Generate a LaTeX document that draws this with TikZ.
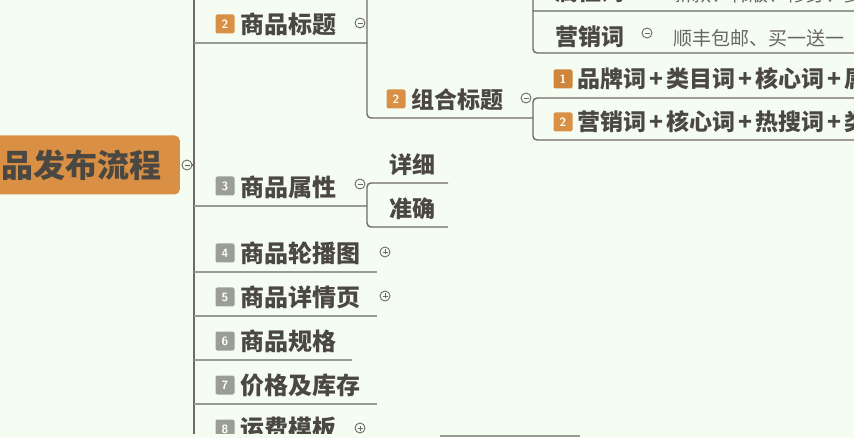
\documentclass[tikz,border=0pt]{standalone}
\usepackage{fontspec}
\newfontfamily\cjk{Noto Sans CJK SC}
\definecolor{bg}{HTML}{F5FDF3}
\definecolor{rootfill}{HTML}{D98F44}
\definecolor{selfill}{HTML}{CF863A}
\definecolor{ink}{HTML}{4B4742}
\definecolor{softink}{HTML}{6A6660}
\definecolor{linec}{HTML}{6E6A64}
\definecolor{ulc}{HTML}{979D92}
\definecolor{badgegray}{HTML}{9A9E95}
\newcommand\pl{\makebox[20pt]{+}}
\tikzset{
  root/.style={fill=rootfill, rounded corners=5pt, text=ink, inner xsep=18pt, inner ysep=0pt,
    minimum height=59pt, font=\cjk\bfseries\fontsize{32}{32}\selectfont},
  topic/.style={anchor=west, text=ink, inner sep=0pt, font=\cjk\bfseries\fontsize{24}{24}\selectfont},
  subtopic/.style={topic, font=\cjk\bfseries\fontsize{23}{23}\selectfont},
  note/.style={anchor=west, text=softink, inner sep=0pt, font=\cjk\fontsize{19}{19}\selectfont},
  badge/.style={fill=#1, rounded corners=2pt, minimum size=19pt, inner sep=0pt, text=white,
    font=\sffamily\bfseries\fontsize{12}{12}\selectfont},
  badge/.default=rootfill,
  fold/.style={circle, draw=linec, fill=bg, line width=0.9pt, minimum size=10pt, inner sep=0pt},
  foldminus/.style={fold, path picture={
    \draw[linec, line width=0.8pt] ([xshift=-2.5pt]path picture bounding box.center)
      -- ([xshift=2.5pt]path picture bounding box.center);}},
  foldplus/.style={fold, path picture={
    \draw[linec, line width=0.8pt] ([xshift=-2.5pt]path picture bounding box.center)
      -- ([xshift=2.5pt]path picture bounding box.center)
      ([yshift=-2.5pt]path picture bounding box.center)
      -- ([yshift=2.5pt]path picture bounding box.center);}},
  conn/.style={draw=linec, line width=1.4pt},
  uline/.style={draw=ulc, line width=1.4pt},
}
\begin{document}
\begin{tikzpicture}[x=1pt, y=-1pt]
  \useasboundingbox (0,0) rectangle (854,438);
  \fill[bg] (0,0) rectangle (854,438);
  \begin{scope}
  \clip (0,0) rectangle (854,433);
  % root
  \node[root, anchor=east] (root) at (180,165) {商品发布流程};
  \node[foldminus] (f0) at (187,165) {};
  \coordinate (spinetop) at (194,-2);
  \coordinate (spinebot) at (194,434);
  \draw[conn] (f0.east) -- (spinetop |- f0);
  \draw[conn] (spinetop) -- (spinebot);
  % 2 商品标题
  \coordinate (j2) at (367,43);
  \coordinate (j2top) at (367,-2);
  \coordinate (j21) at (533,118);
  \draw[uline] (spinetop |- j2) -- (j2);
  \draw[conn, rounded corners=4pt] (j2top) -- (j2top |- j21) -- (j21);
  \node[badge] (n2) at (225,24) {2};
  \node[topic] (t2) at (240,24) {商品标题};
  \node[foldminus] (f2) at (360,23) {};
  % upper box
  \coordinate (boxtop) at (533,-2);
  \coordinate (boxbot) at (533,53);
  \draw[uline] (533,11) -- (860,11);
  \draw[conn, rounded corners=4pt] (boxtop) -- (boxbot) -- (860,53);
  \node[subtopic] (k0) at (555,-8) {属性词};
  \node[note] (k0n) at (673,-6) {新款、韩版、修身、夏季};
  \node[subtopic] (k1) at (555,37) {营销词};
  \node[foldminus] (fk1) at (647,33) {};
  \node[note] (k1n) at (673,38) {顺丰包邮、买一送一};
  % 组合标题
  \node[badge] (n21) at (396,99) {2};
  \node[subtopic] (t21) at (411,100) {组合标题};
  \draw[conn, rounded corners=4pt] (860,98) -- (j21 |- 0,98) -- (j21 |- 0,140) -- (860,140);
  \node[foldminus] (f21) at (526,98) {};
  \node[badge=selfill] (c1b) at (563,79) {1};
  \node[subtopic] (c1) at (577,79) {品牌词\pl 类目词\pl 核心词\pl 属性词};
  \node[badge] (c2b) at (563,122) {2};
  \node[subtopic] (c2) at (577,122) {营销词\pl 核心词\pl 热搜词\pl 类目词};
  % 3 商品属性
  \coordinate (j3) at (367,206);
  \draw[uline] (spinetop |- j3) -- (j3);
  \draw[conn, rounded corners=4pt] (448,183) -- (367,183) -- (367,227) -- (448,227);
  \node[badge=badgegray] (n3) at (225,186) {3};
  \node[topic] (t3) at (240,187) {商品属性};
  \node[foldminus] (f3) at (360,184) {};
  \node[subtopic] (d1) at (389,165) {详细};
  \node[subtopic] (d2) at (389,209) {准确};
  % 4 商品轮播图
  \coordinate (j4) at (377,272);
  \draw[uline] (spinetop |- j4) -- (j4);
  \node[badge=badgegray] (n4) at (225,253) {4};
  \node[topic] (t4) at (240,253) {商品轮播图};
  \node[foldplus] (f4) at (385,252) {};
  % 5 商品详情页
  \coordinate (j5) at (377,316);
  \draw[uline] (spinetop |- j5) -- (j5);
  \node[badge=badgegray] (n5) at (225,297) {5};
  \node[topic] (t5) at (240,297) {商品详情页};
  \node[foldplus] (f5) at (385,296) {};
  % 6 商品规格
  \coordinate (j6) at (352,360);
  \draw[uline] (spinetop |- j6) -- (j6);
  \node[badge=badgegray] (n6) at (225,341) {6};
  \node[topic] (t6) at (240,341) {商品规格};
  % 7 价格及库存
  \coordinate (j7) at (377,404);
  \draw[uline] (spinetop |- j7) -- (j7);
  \node[badge=badgegray] (n7) at (225,385) {7};
  \node[topic] (t7) at (240,385) {价格及库存};
  % 8 运费模板
  \node[badge=badgegray] (n8) at (225,429) {8};
  \node[topic] (t8) at (240,429) {运费模板};
  \node[foldplus] (f8) at (360,428) {};
  \end{scope}
  \draw[ulc, line width=1.2pt] (440,436) -- (580,436);
\end{tikzpicture}
\end{document}
